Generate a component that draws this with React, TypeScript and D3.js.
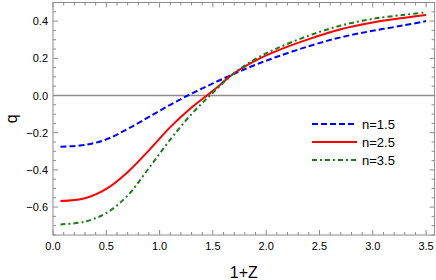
import React from 'react';
import * as d3 from 'd3';

// 1+Z sample points and q values for each n
const zValues = [0.07, 0.3, 0.5, 0.7, 0.9, 1.1, 1.3, 1.5, 1.7, 1.9, 2.1, 2.4, 2.7, 3.0, 3.3, 3.5];
const qN15 = [-0.275, -0.266, -0.236, -0.18, -0.115, -0.05, 0.01, 0.065, 0.117, 0.165, 0.208, 0.265, 0.313, 0.348, 0.378, 0.4];
const qN25 = [-0.567, -0.552, -0.502, -0.412, -0.295, -0.17, -0.065, 0.025, 0.12, 0.188, 0.24, 0.303, 0.356, 0.392, 0.418, 0.433];
const qN35 = [-0.693, -0.678, -0.632, -0.538, -0.39, -0.237, -0.1, 0.015, 0.12, 0.197, 0.253, 0.322, 0.376, 0.412, 0.434, 0.447];

const xTicks = [0, 0.5, 1, 1.5, 2, 2.5, 3, 3.5];
const yTicks = [-0.6, -0.4, -0.2, 0, 0.2, 0.4];

const series = [
  { label: 'n=1.5', values: qN15, color: '#0000ff', dash: '6,3' },
  { label: 'n=2.5', values: qN25, color: '#ff0000', dash: '' },
  { label: 'n=3.5', values: qN35, color: '#1e7b1e', dash: '5,3,2,3' },
];

const W = 436;
const H = 280;
const left = 53;
const right = 434.6;
const top = 2.5;
const bottom = 235;

const App: React.FC = () => {
  const x = d3.scaleLinear().domain([0, 3.58]).range([left, right]);
  const y = d3.scaleLinear().domain([-0.75, 0.5]).range([bottom, top]);

  const line = d3.line<number>()
    .x((_, i) => x(zValues[i]))
    .y(d => y(d))
    .curve(d3.curveCatmullRom.alpha(0.5));

  const xMinor = d3.range(0, 3.58, 0.1).filter(v => !xTicks.some(t => Math.abs(t - v) < 1e-6));
  const yMinor = d3.range(-0.75, 0.5001, 0.05).filter(v => !yTicks.some(t => Math.abs(t - v) < 1e-6));
  const fmt = (v: number) => (v < 0 ? '\u2212' : '') + Math.abs(v).toFixed(1);
  const frame = '#8c8c8c';

  return (
    <svg width={W} height={H} style={{ position: 'absolute', left: 0, top: 0, fontFamily: 'Liberation Sans, Arial, sans-serif' }}>
      <rect width={W} height={H} fill="#fff" />
      {/* ticks, inward on all sides */}
      <g stroke={frame} strokeWidth={1}>
        {xTicks.map(t => (
          <g key={'xt' + t}>
            <line x1={x(t)} x2={x(t)} y1={bottom} y2={bottom - 5} />
            <line x1={x(t)} x2={x(t)} y1={top} y2={top + 5} />
          </g>
        ))}
        {xMinor.map(t => (
          <g key={'xm' + t}>
            <line x1={x(t)} x2={x(t)} y1={bottom} y2={bottom - 3} />
            <line x1={x(t)} x2={x(t)} y1={top} y2={top + 3} />
          </g>
        ))}
        {yTicks.map(t => (
          <g key={'yt' + t}>
            <line x1={left} x2={left + 5} y1={y(t)} y2={y(t)} />
            <line x1={right} x2={right - 5} y1={y(t)} y2={y(t)} />
          </g>
        ))}
        {yMinor.map(t => (
          <g key={'ym' + t}>
            <line x1={left} x2={left + 3} y1={y(t)} y2={y(t)} />
            <line x1={right} x2={right - 3} y1={y(t)} y2={y(t)} />
          </g>
        ))}
      </g>
      <rect x={left} y={top} width={right - left} height={bottom - top} fill="none" stroke={frame} strokeWidth={1} />
      <line x1={left} x2={right} y1={y(0)} y2={y(0)} stroke="#8c8c8c" strokeWidth={1.5} />

      {series.map(s => (
        <path key={s.label} d={line(s.values) ?? ''} fill="none" stroke={s.color} strokeWidth={2} strokeDasharray={s.dash} />
      ))}

      {/* tick labels */}
      <g fontSize={11} fill="#000">
        {xTicks.map(t => (
          <text key={'xl' + t} x={x(t)} y={bottom + 15} textAnchor="middle">{fmt(t)}</text>
        ))}
        {yTicks.map(t => (
          <text key={'yl' + t} x={left - 5} y={y(t) + 4} textAnchor="end">{fmt(t)}</text>
        ))}
      </g>
      <text x={(left + right) / 2} y={278} textAnchor="middle" fontSize={16}>1+Z</text>
      <text transform={`translate(17,${(top + bottom) / 2}) rotate(-90)`} textAnchor="middle" fontSize={16}>q</text>

      {/* legend */}
      {series.map((s, i) => (
        <g key={'lg' + s.label} transform={`translate(312,${124 + i * 18})`}>
          <line x1={0} x2={45} y1={0} y2={0} stroke={s.color} strokeWidth={2} strokeDasharray={s.dash} />
          <text x={50} y={4.5} fontSize={13}>{s.label}</text>
        </g>
      ))}
    </svg>
  );
};

export default App;
